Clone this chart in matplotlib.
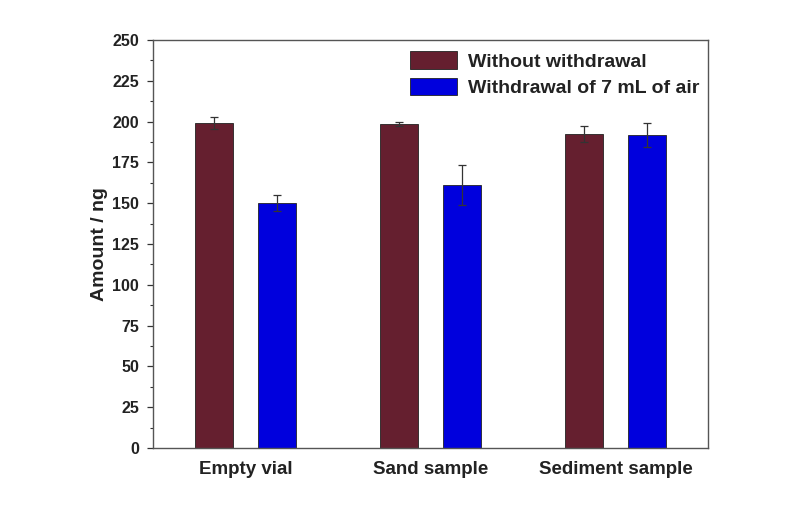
import matplotlib
matplotlib.use("Agg")
import matplotlib.pyplot as plt
import numpy as np
from matplotlib.ticker import MultipleLocator

categories = ["Empty vial", "Sand sample", "Sediment sample"]
without_vals = [199.0, 198.5, 192.4]
without_err = [3.6, 1.5, 4.9]
withdrawal_vals = [150.0, 161.0, 191.8]
withdrawal_err = [5.0, 12.4, 7.2]
series_labels = ["Without withdrawal", "Withdrawal of 7 mL of air"]

plt.rcParams['font.family'] = ['Liberation Sans', 'DejaVu Sans']

fig = plt.figure(figsize=(8.02, 5.08), dpi=100)
ax = fig.add_axes([0.1908, 0.1181, 0.6920, 0.8032])

x = np.arange(len(categories))
w = 0.205
off = 0.168
c1 = "#651f2f"
c2 = "#0000dd"
ax.bar(x - off, without_vals, w, color=c1, edgecolor="#222222", linewidth=0.6,
       yerr=without_err, error_kw=dict(ecolor="#333333", elinewidth=0.9, capsize=3, capthick=0.9),
       label=series_labels[0])
ax.bar(x + off, withdrawal_vals, w, color=c2, edgecolor="#222222", linewidth=0.6,
       yerr=withdrawal_err, error_kw=dict(ecolor="#333333", elinewidth=0.9, capsize=3, capthick=0.9),
       label=series_labels[1])

ax.set_xlim(-0.5, 2.5)
ax.set_ylim(0, 250)
ax.yaxis.set_major_locator(MultipleLocator(25))
ax.yaxis.set_minor_locator(MultipleLocator(12.5))
ax.set_xticks(x)
ax.set_xticklabels(categories, fontsize=13.5, fontweight='bold', color="#222222")
ax.tick_params(axis='x', length=0, pad=9)
ax.tick_params(axis='y', which='major', direction='out', length=4, width=0.9, labelsize=11.5, pad=6, colors="#333333")
ax.tick_params(axis='y', which='minor', direction='out', length=2.5, width=0.8, colors="#333333")
for lab in ax.get_yticklabels():
    lab.set_fontweight('bold')
    lab.set_color("#222222")
ax.set_ylabel("Amount / ng", fontsize=14, fontweight='bold', color="#222222", labelpad=3)
for s in ax.spines.values():
    s.set_color("#555555")
    s.set_linewidth(1.0)

leg = ax.legend(loc='upper left', bbox_to_anchor=(0.463, 0.972), frameon=False,
                prop=dict(size=14, weight='bold'), handlelength=2.4, handleheight=1.0,
                handletextpad=0.6, labelspacing=0.35, borderpad=0, borderaxespad=0)
for t in leg.get_texts():
    t.set_color("#222222")

fig.savefig("out.png", dpi=100)
